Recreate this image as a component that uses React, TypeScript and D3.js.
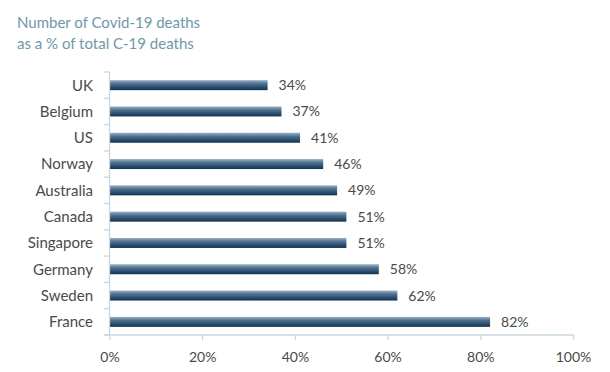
import React, { useRef, useEffect } from 'react';
import * as d3 from 'd3';

const countries = ['UK', 'Belgium', 'US', 'Norway', 'Australia', 'Canada', 'Singapore', 'Germany', 'Sweden', 'France'];
const shares = [34, 37, 41, 46, 49, 51, 51, 58, 62, 82];
const xTicks = [0, 20, 40, 60, 80, 100];
const titleLines = ['Number of Covid-19 deaths', 'as a % of total C-19 deaths'];

const W = 610;
const H = 372;

export default function App() {
  const svgRef = useRef<SVGSVGElement>(null);

  useEffect(() => {
    if (!svgRef.current) return;
    const svg = d3.select(svgRef.current);
    svg.selectAll('*').remove();

    const font = "Lato, 'Open Sans', sans-serif";
    const axisColor = '#c8d7e1';
    const textColor = '#4a4a4a';

    const defs = svg.append('defs');
    const grad = defs.append('linearGradient')
      .attr('id', 'barGrad')
      .attr('x1', 0).attr('y1', 0).attr('x2', 0).attr('y2', 1);
    grad.append('stop').attr('offset', '0%').attr('stop-color', '#9bb2c4');
    grad.append('stop').attr('offset', '35%').attr('stop-color', '#4f7291');
    grad.append('stop').attr('offset', '100%').attr('stop-color', '#0f3252');

    const x = d3.scaleLinear().domain([0, 100]).range([110, 573.5]);
    const y = d3.scaleBand<string>().domain(countries).range([72, 335]).paddingInner(0.62).paddingOuter(0.31);
    const step = y.step();

    // title
    svg.append('g').selectAll('text').data(titleLines).enter().append('text')
      .attr('x', 17)
      .attr('y', (d, i) => 28 + i * 21)
      .attr('font-family', font)
      .attr('font-size', 15)
      .attr('fill', '#6e97ae')
      .text(d => d);

    // bars
    svg.append('g').selectAll('rect').data(countries).enter().append('rect')
      .attr('x', x(0))
      .attr('y', d => y(d)!)
      .attr('width', (d, i) => x(shares[i]) - x(0))
      .attr('height', y.bandwidth())
      .attr('fill', 'url(#barGrad)');

    // value labels
    svg.append('g').selectAll('text').data(countries).enter().append('text')
      .attr('x', (d, i) => x(shares[i]) + 11)
      .attr('y', d => y(d)! + y.bandwidth() / 2)
      .attr('dy', '0.36em')
      .attr('font-family', font)
      .attr('font-size', 14)
      .attr('fill', textColor)
      .text((d, i) => `${shares[i]}%`);

    // category labels
    svg.append('g').selectAll('text').data(countries).enter().append('text')
      .attr('x', 93)
      .attr('y', d => y(d)! + y.bandwidth() / 2)
      .attr('dy', '0.36em')
      .attr('text-anchor', 'end')
      .attr('font-family', font)
      .attr('font-size', 15)
      .attr('fill', textColor)
      .text(d => d);

    // y axis line + boundary ticks
    const y0 = 72;
    const y1 = 335;
    const axes = svg.append('g').attr('stroke', axisColor).attr('stroke-width', 1.3);
    axes.append('line').attr('x1', 109.5).attr('x2', 109.5).attr('y1', y0).attr('y2', y1);
    axes.selectAll('line.yt').data(d3.range(countries.length + 1)).enter().append('line')
      .attr('class', 'yt')
      .attr('x1', 104).attr('x2', 109.5)
      .attr('y1', i => y0 + i * step).attr('y2', i => y0 + i * step);

    // x axis line + ticks
    axes.append('line').attr('x1', 104).attr('x2', x(100)).attr('y1', y1).attr('y2', y1);
    axes.selectAll('line.xt').data(xTicks).enter().append('line')
      .attr('class', 'xt')
      .attr('x1', d => x(d)).attr('x2', d => x(d))
      .attr('y1', y1).attr('y2', y1 + 5);

    svg.append('g').selectAll('text').data(xTicks).enter().append('text')
      .attr('x', d => x(d))
      .attr('y', 357)
      .attr('dy', '0.36em')
      .attr('text-anchor', 'middle')
      .attr('font-family', font)
      .attr('font-size', 14)
      .attr('fill', textColor)
      .text(d => `${d}%`);
  }, []);

  return (
    <div style={{ position: 'absolute', left: 0, top: 0, width: W, height: H, background: '#fff' }}>
      <svg ref={svgRef} width={W} height={H}></svg>
    </div>
  );
}
